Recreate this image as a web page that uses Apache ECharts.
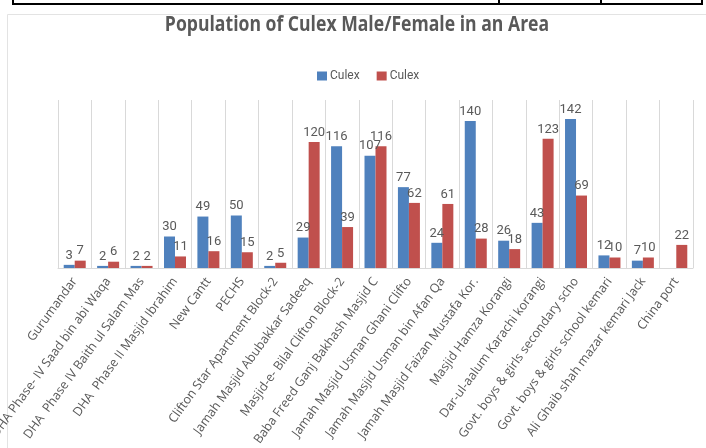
<!DOCTYPE html>
<html>
<head>
<meta charset="utf-8">
<script src="https://cdn.jsdelivr.net/npm/echarts@6/dist/echarts.min.js"></script>
<style>
  html, body { margin: 0; padding: 0; background: #ffffff; }
  #chart { width: 706px; height: 448px; }
</style>
</head>
<body>
<div id="chart"></div>
<script>
// Collection sites (names as shortened on the axis)
var sites = [
  'Gurumandar',
  'DHA Phase- IV Saad bin abi Waqa',
  'DHA  Phase IV Baith ul Salam Mas',
  'DHA  Phase II Masjid Ibrahim',
  'New Cantt',
  'PECHS',
  'Clifton Star Apartment Block-2',
  'Jamah Masjid Abubakkar Sadeeq',
  'Masjid-e- Bilal Clifton Block-2',
  'Baba Freed Ganj Bakhash Masjid C',
  'Jamah Masjid Usman Ghani Clifto',
  'Jamah Masjid Usman bin Afan Qa',
  'Jamah Masjid Faizan Mustafa Kor.',
  'Masjid Hamza Korangi',
  'Dar-ul-aalum Karachi korangi',
  'Govt. boys & girls secondary scho',
  'Govt. boys & girls school kemari',
  'Ali Ghaib shah mazar kemari Jack',
  'China port'
];

// Culex counts per site
var culexMale   = [3, 2, 2, 30, 49, 50, 2, 29, 116, 107, 77, 24, 140, 26, 43, 142, 12, 7, null];
var culexFemale = [7, 6, 2, 11, 16, 15, 5, 120, 39, 116, 62, 61, 28, 18, 123, 69, 10, 10, 22];

var legendLabels = ['Culex', 'Culex'];
var chartTitle = 'Population of Culex Male/Female in an Area';

var font = '"Open Sans", sans-serif';
var narrowFont = 'Roboto, "Open Sans", sans-serif';
var grey = '#595959';

var chart = echarts.init(document.getElementById('chart'));

chart.setOption({
  animation: false,
  backgroundColor: '#ffffff',
  legend: {
    top: 65,
    left: 312,
    itemWidth: 10,
    itemHeight: 9,
    itemGap: 17,
    icon: 'rect',
    data: ['Male', 'Female'],
    formatter: function (name) { return name === 'Male' ? legendLabels[0] : legendLabels[1]; },
    textStyle: { fontFamily: narrowFont, fontSize: 12, color: grey, padding: [0, 0, 0, -2] }
  },
  grid: { left: 58, right: 13, top: 100, bottom: 180, containLabel: false, outerBoundsMode: 'none' },
  xAxis: {
    type: 'category',
    data: sites,
    axisLine: { lineStyle: { color: '#d9d9d9', width: 1 } },
    axisTick: { show: false },
    splitLine: { show: true, lineStyle: { color: '#d9d9d9', width: 1 } },
    axisLabel: {
      interval: 0,
      rotate: 54,
      margin: 11,
      fontFamily: font,
      fontSize: 12.5,
      color: grey
    }
  },
  yAxis: {
    type: 'value',
    min: 0,
    max: 160,
    interval: 20,
    show: false,
    splitLine: { show: false }
  },
  series: [
    {
      name: 'Male',
      type: 'bar',
      data: culexMale,
      barWidth: 11,
      barGap: '0%',
      itemStyle: { color: '#4f81bd' },
      label: { show: true, position: 'top', distance: 3, fontFamily: narrowFont, fontSize: 13, color: grey }
    },
    {
      name: 'Female',
      type: 'bar',
      data: culexFemale,
      barWidth: 11,
      itemStyle: { color: '#c0504d' },
      label: { show: true, position: 'top', distance: 3, fontFamily: narrowFont, fontSize: 13, color: grey }
    }
  ],
  graphic: [
    // chart title, slightly condensed
    { type: 'text', x: 357, y: 25, scaleX: 0.8, silent: true,
      style: { text: chartTitle, textAlign: 'center', textVerticalAlign: 'middle',
               fontFamily: font, fontWeight: 'bold', fontSize: 22, fill: grey } },
    // chart frame
    { type: 'rect', shape: { x: 7.5, y: 14.5, width: 760, height: 500 },
      style: { fill: null, stroke: '#e3e3e3', lineWidth: 1 }, silent: true, z: -1 },
    // table border above the chart
    { type: 'line', shape: { x1: 13, y1: 4, x2: 703, y2: 4 }, style: { stroke: '#000', lineWidth: 2 } },
    { type: 'line', shape: { x1: 13, y1: 0, x2: 13, y2: 5 }, style: { stroke: '#000', lineWidth: 2 } },
    { type: 'line', shape: { x1: 499, y1: 0, x2: 499, y2: 5 }, style: { stroke: '#000', lineWidth: 2 } },
    { type: 'line', shape: { x1: 601, y1: 0, x2: 601, y2: 5 }, style: { stroke: '#000', lineWidth: 2 } },
    { type: 'line', shape: { x1: 702, y1: 0, x2: 702, y2: 5 }, style: { stroke: '#000', lineWidth: 2 } }
  ]
});
</script>
</body>
</html>
